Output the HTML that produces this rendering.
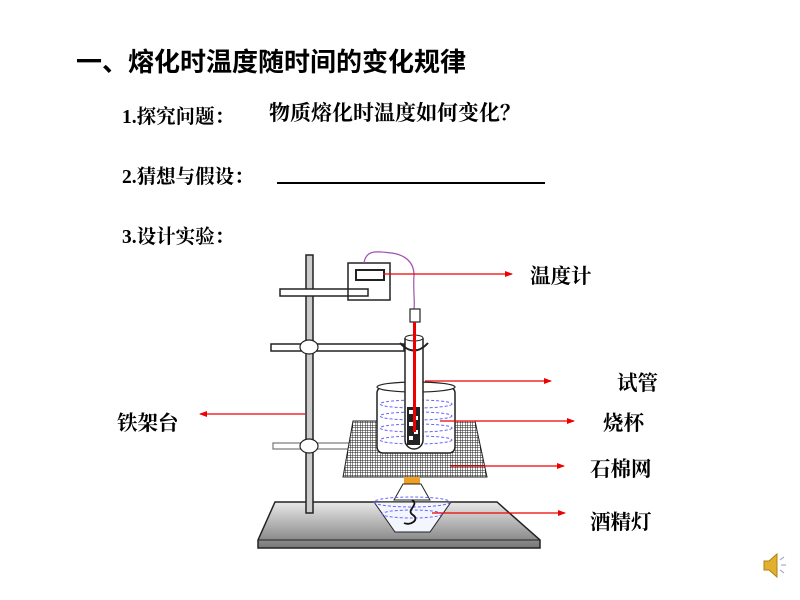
<!DOCTYPE html>
<html><head><meta charset="utf-8"><style>
body{margin:0;width:800px;height:600px;background:#fff;overflow:hidden;position:relative;font-family:"Liberation Serif","Noto Serif CJK SC","Noto Sans CJK SC",serif;}
.t{position:absolute;white-space:nowrap;color:#000;}
.l{font-size:20.5px;font-weight:bold;}
</style></head><body>
<div class="t" style="left:76px;top:42px;font-size:26px;font-weight:bold;font-family:'Liberation Sans','Noto Sans CJK SC',sans-serif;">一、熔化时温度随时间的变化规律</div>
<div class="t" style="left:122px;top:101px;font-size:19.5px;font-weight:bold;">1.探究问题：</div>
<div class="t" style="left:269px;top:97px;font-size:21px;font-weight:bold;">物质熔化时温度如何变化？</div>
<div class="t" style="left:122px;top:161px;font-size:19.5px;font-weight:bold;">2.猜想与假设：</div>
<div style="position:absolute;left:277px;top:182px;width:268px;height:1.5px;background:#000"></div>
<div class="t" style="left:122px;top:221px;font-size:19.5px;font-weight:bold;">3.设计实验：</div>
<div class="t l" style="left:530px;top:259px;">温度计</div>
<div class="t l" style="left:617px;top:366px;">试管</div>
<div class="t l" style="left:603px;top:406px;">烧杯</div>
<div class="t l" style="left:590px;top:452px;">石棉网</div>
<div class="t l" style="left:590px;top:505px;">酒精灯</div>
<div class="t l" style="left:117px;top:406px;">铁架台</div>
<svg width="800" height="600" style="position:absolute;left:0;top:0">
<defs>
<pattern id="g" width="2.5" height="2.5" patternUnits="userSpaceOnUse"><rect width="2.5" height="2.5" fill="#fff"/><path d="M0 0H2.5M0 0V2.5" stroke="#222" stroke-width="1"/></pattern>
<linearGradient id="b" x1="0" y1="0" x2="0" y2="1"><stop offset="0" stop-color="#e8e8e8"/><stop offset="1" stop-color="#777"/></linearGradient>
<marker id="a" markerWidth="8" markerHeight="8" refX="7" refY="4" orient="auto" markerUnits="userSpaceOnUse"><path d="M0 1L8 4L0 7z" fill="#e00"/></marker>
</defs>
<path d="M275 502H497L540 540V548H258V540Z" fill="url(#b)" stroke="#222" stroke-width="1.5"/>
<path d="M258 540H540" stroke="#222"/>
<rect x="306" y="255" width="7" height="258" fill="#ccc" stroke="#222" stroke-width="1.5"/>
<rect x="280" y="289" width="88" height="7" fill="#fff" stroke="#222" stroke-width="1.5"/>
<rect x="348" y="263" width="42" height="37" fill="none" stroke="#222" stroke-width="1.5"/>
<rect x="356" y="270" width="28" height="10" fill="#fff" stroke="#222" stroke-width="2"/>
<path d="M364 263C366 248 380 252 392 253C405 255 414 262 414 275C413 290 415 300 414 310" fill="none" stroke="#a050b0" stroke-width="1.2"/>
<rect x="271" y="344" width="133" height="7" fill="#fff" stroke="#222" stroke-width="1.5"/>
<ellipse cx="309" cy="347" rx="9" ry="7" fill="#fff" stroke="#222" stroke-width="1.2"/>
<rect x="273" y="443" width="80" height="6" fill="#fff" stroke="#777" stroke-width="1.2"/>
<ellipse cx="309" cy="446" rx="9" ry="7" fill="#fff" stroke="#222" stroke-width="1.2"/>
<path d="M353 421H475L487 477H343Z" fill="url(#g)" stroke="#222"/>
<rect x="377" y="387" width="78" height="66" rx="6" fill="#fff" stroke="#222" stroke-width="1.5"/>
<ellipse cx="416" cy="387" rx="39" ry="5" fill="#fff" stroke="#222" stroke-width="1.2"/>
<g fill="none" stroke="#66f" stroke-dasharray="3 2" stroke-width="1">
<ellipse cx="416" cy="404" rx="36" ry="4"/><ellipse cx="416" cy="416" rx="36" ry="4"/><ellipse cx="416" cy="428" rx="36" ry="4"/><ellipse cx="416" cy="440" rx="36" ry="4"/></g>
<path d="M405 338V440A9 9 0 0 0 423 440V338" fill="#fff" stroke="#222" stroke-width="1.5"/>
<ellipse cx="414" cy="338" rx="9" ry="3" fill="#fff" stroke="#222"/>
<path d="M400 343Q414 358 428 343" fill="none" stroke="#222" stroke-width="2"/>
<rect x="407" y="407" width="13" height="38" fill="#222"/>
<g fill="#fff"><rect x="409" y="410" width="4" height="4"/><rect x="414" y="416" width="4" height="4"/><rect x="409" y="422" width="4" height="4"/><rect x="414" y="430" width="4" height="4"/><rect x="409" y="436" width="4" height="4"/></g>
<rect x="410" y="309" width="10" height="13" fill="#fff" stroke="#222" stroke-width="1.2"/>
<rect x="413" y="322" width="3" height="110" fill="#e00"/>
<rect x="404" y="477" width="16" height="7" fill="#f0a020"/>
<path d="M403 484H421L430 500H394Z" fill="#fff" stroke="#222"/>
<path d="M374 502H451L430 532H395Z" fill="#f4f6ff" stroke="#222"/>
<ellipse cx="412" cy="502" rx="38" ry="5" fill="none" stroke="#66f" stroke-dasharray="3 2"/>
<ellipse cx="412" cy="514" rx="30" ry="4" fill="none" stroke="#66f" stroke-dasharray="3 2"/>
<path d="M412 500C420 505 405 510 413 515C420 520 410 526 404 523" fill="none" stroke="#111" stroke-width="1.8"/>
<g stroke="#e00" stroke-width="1.2" marker-end="url(#a)">
<line x1="383" y1="274" x2="512" y2="274"/>
<line x1="425" y1="381" x2="551" y2="381"/>
<line x1="305" y1="414" x2="200" y2="414"/>
<line x1="440" y1="421" x2="574" y2="421"/>
<line x1="450" y1="466" x2="564" y2="466"/>
<line x1="432" y1="513" x2="565" y2="513"/>
</g>
<path d="M764 561H769L777 554V577L769 570H764Z" fill="#e0b030" stroke="#b08010"/>
<g stroke="#99b" stroke-width="1"><line x1="780" y1="560" x2="784" y2="557"/><line x1="781" y1="565" x2="786" y2="565"/><line x1="780" y1="570" x2="784" y2="573"/></g>
</svg>
</body></html>
